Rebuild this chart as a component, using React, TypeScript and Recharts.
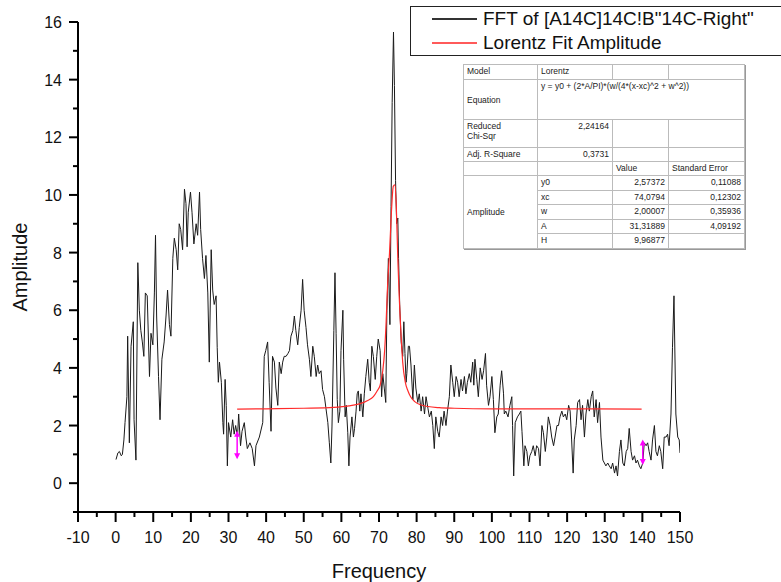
import { LineChart, Line, XAxis, YAxis, Legend } from "recharts"

// FFT spectrum (frequency / amplitude)
const fftFreq = [
  0.1, 0.6, 1.0, 1.5, 1.8, 2.2, 2.5, 3.0, 3.2, 3.65, 4.1, 4.7, 4.9, 5.4, 5.9, 6.3, 6.7, 7.1, 7.5, 7.9,
  8.4, 9.0, 9.4, 9.9, 10.3, 10.6, 10.9, 11.4, 11.8, 12.3, 12.9, 13.4, 13.8, 14.3, 14.7, 15.2, 15.6, 16.1, 16.5, 16.9,
  17.3, 17.8, 18.3, 18.7, 19.0, 19.3, 19.9, 20.3, 20.8, 21.4, 21.8, 22.3, 22.6, 23.1, 23.6, 24.0, 24.5, 24.9, 25.4, 25.8,
  26.2, 26.7, 27.0, 27.3, 27.6, 28.1, 28.5, 28.7, 29.1, 29.4, 29.7, 30.0, 30.6, 31.1, 31.5, 31.9, 32.4, 32.7, 33.2, 33.6,
  34.2, 34.6, 35.0, 35.7, 36.3, 36.9, 37.3, 38.2, 39.1, 39.5, 39.9, 40.4, 40.8, 41.3, 41.7, 42.2, 42.6, 43.1, 43.5, 44.0,
  44.4, 44.8, 45.3, 45.8, 46.2, 46.6, 47.1, 47.5, 47.9, 48.4, 48.8, 49.3, 49.7, 50.1, 50.6, 51.0, 51.5, 51.9, 52.4, 52.8,
  53.3, 53.7, 54.1, 54.6, 55.0, 55.5, 55.9, 56.4, 56.8, 57.2, 57.5, 58.0, 58.3, 58.6, 58.9, 59.2, 59.6, 59.9, 60.4, 60.6,
  61.0, 61.3, 61.7, 62.0, 62.3, 62.8, 63.2, 63.5, 63.9, 64.2, 64.5, 64.9, 65.2, 65.7, 66.1, 66.5, 67.0, 67.4, 67.7, 68.1,
  68.5, 69.0, 69.4, 69.8, 70.3, 70.7, 71.0, 71.4, 71.8, 72.1, 72.5, 72.9, 73.2, 73.5, 73.85, 74.1, 74.4, 74.7, 75.0, 75.2,
  75.5, 75.9, 76.3, 76.6, 76.9, 77.2, 77.4, 77.8, 78.1, 78.5, 79.0, 79.4, 79.8, 80.3, 80.7, 81.2, 81.6, 82.1, 82.5, 83.0,
  83.4, 83.9, 84.3, 84.7, 85.1, 85.6, 86.0, 86.5, 86.9, 87.3, 87.8, 88.2, 88.7, 89.1, 89.6, 90.0, 90.5, 90.9, 91.3, 91.8,
  92.2, 92.7, 93.1, 93.5, 94.0, 94.4, 94.9, 95.2, 95.5, 96.0, 96.4, 96.9, 97.4, 97.8, 98.3, 98.6, 99.1, 99.5, 100.0, 100.4,
  100.8, 101.3, 101.7, 102.2, 102.6, 103.1, 103.3, 103.7, 104.3, 104.8, 105.3, 105.5, 105.8, 106.2, 106.8, 107.3, 107.7, 108.0, 108.5, 108.8,
  109.3, 109.7, 110.1, 110.6, 111.0, 111.5, 111.9, 112.4, 112.8, 113.3, 113.7, 114.2, 114.6, 115.0, 115.5, 115.9, 116.4, 116.8, 117.3, 117.7,
  118.1, 118.6, 119.0, 119.5, 119.9, 120.4, 120.8, 121.2, 121.6, 121.9, 122.4, 122.8, 123.3, 123.7, 124.1, 124.6, 125.0, 125.5, 125.9, 126.4,
  126.8, 127.2, 127.7, 128.1, 128.6, 129.0, 129.5, 129.9, 130.3, 130.8, 131.2, 131.7, 132.1, 132.6, 133.0, 133.4, 133.9, 134.3, 134.8, 135.2,
  135.7, 136.1, 136.5, 137.0, 137.4, 137.9, 138.3, 138.7, 139.2, 139.6, 140.1, 140.5, 141.0, 141.4, 141.8, 142.3, 142.7, 143.2, 143.6, 144.0,
  144.5, 144.9, 145.4, 145.8, 146.3, 146.7, 147.1, 147.6, 148.0, 148.4, 148.9, 149.4, 149.8, 150.0,
]
const fftAmp = [
  0.82, 1.05, 1.1, 0.95, 1.0, 1.5, 2.1, 3.0, 5.1, 1.4, 4.75, 5.6, 2.2, 0.8, 7.65, 6.0, 5.3, 4.9, 4.4, 6.6,
  6.5, 3.7, 5.2, 4.8, 6.6, 8.6, 5.8, 3.7, 2.2, 4.3, 4.9, 5.8, 6.7, 5.5, 5.1, 7.8, 8.5, 8.1, 7.4, 9.0,
  8.8, 8.1, 10.2, 9.7, 8.2, 9.4, 10.1, 9.4, 8.3, 9.0, 8.6, 10.1, 8.8, 7.8, 7.1, 7.9, 6.6, 4.2, 8.1, 6.7,
  6.2, 6.5, 4.7, 3.5, 4.2, 3.5, 2.1, 1.7, 3.6, 2.7, 0.6, 2.1, 1.6, 2.2, 1.7, 2.0, 1.6, 2.4, 1.3, 1.8,
  2.1, 1.6, 1.2, 1.4, 1.2, 0.6, 1.3, 1.6, 2.1, 4.4, 4.6, 4.9, 3.5, 1.8, 4.4, 4.2, 3.3, 2.7, 4.2, 3.8,
  4.2, 4.4, 4.4, 4.5, 4.6, 5.1, 5.3, 5.8, 5.3, 4.8, 5.4, 6.0, 7.07, 6.0, 5.4, 4.8, 4.3, 3.7, 4.75, 4.4,
  3.7, 4.1, 3.8, 3.9, 3.25, 3.0, 2.6, 2.1, 1.4, 0.7, 1.95, 5.3, 7.3, 5.2, 2.9, 2.1, 2.5, 4.6, 6.0, 4.3,
  2.3, 2.7, 1.75, 0.6, 1.6, 2.3, 1.6, 1.9, 2.5, 3.1, 3.2, 2.5, 3.1, 2.3, 3.1, 3.7, 4.3, 3.5, 3.2, 4.75,
  4.4, 3.6, 4.4, 5.0, 4.6, 3.0, 3.8, 3.3, 2.8, 6.0, 7.8, 5.5, 9.6, 13.2, 15.65, 13.8, 10.5, 9.0, 9.2, 7.8,
  6.2, 4.9, 4.4, 5.6, 4.5, 3.5, 3.8, 4.75, 4.75, 4.1, 2.9, 4.1, 3.3, 2.8, 3.1, 2.5, 3.0, 2.4, 3.0, 2.6,
  2.3, 2.5, 2.0, 1.2, 2.3, 1.8, 1.6, 2.3, 2.0, 2.5, 2.0, 2.5, 3.0, 4.1, 3.5, 3.0, 3.7, 3.5, 3.0, 3.6,
  3.2, 3.7, 3.1, 3.5, 3.8, 3.5, 4.2, 3.4, 4.3, 3.6, 3.0, 4.0, 3.6, 3.9, 4.5, 3.4, 2.7, 3.0, 3.7, 2.9,
  1.75, 2.3, 2.4, 3.4, 3.9, 3.1, 2.4, 2.5, 2.3, 2.7, 3.0, 2.0, 0.25, 2.1, 2.3, 2.4, 2.5, 1.8, 0.6, 1.3,
  1.1, 0.6, 0.95, 1.1, 1.3, 0.95, 1.3, 1.2, 0.6, 2.0, 1.75, 1.1, 1.6, 2.3, 2.0, 1.6, 1.3, 1.6, 2.0, 2.0,
  2.3, 2.5, 2.3, 2.4, 2.2, 2.7, 2.5, 1.5, 0.35, 1.5, 2.0, 2.8, 2.9, 2.2, 2.7, 1.6, 2.4, 2.9, 2.5, 3.0,
  3.2, 2.3, 2.9, 2.1, 2.8, 1.6, 0.8, 0.7, 0.6, 0.7, 0.6, 0.5, 0.7, 0.35, 0.6, 0.25, 1.1, 1.5, 0.7, 0.6,
  1.1, 1.2, 1.9, 1.1, 0.8, 0.95, 0.7, 0.8, 0.6, 0.5, 0.7, 1.4, 1.3, 1.4, 1.1, 0.8, 1.5, 2.0, 1.1, 0.95,
  1.3, 1.1, 0.5, 1.6, 1.6, 1.7, 1.3, 2.4, 4.7, 6.5, 2.4, 1.6, 1.5, 1.05,
]

// Lorentz fit curve
const fitFreq = [
  32.3, 40, 50, 58, 62, 65, 67, 68.5, 69.5, 70.3, 71.0, 71.5, 71.9, 72.3, 72.8, 73.3, 73.8, 74.2, 74.6, 75.0,
  75.3, 75.6, 76.0, 76.3, 77.0, 77.7, 78.4, 79.5, 81, 83, 86, 90, 100, 120, 139.8,
]
const fitAmp = [
  2.57, 2.58, 2.6, 2.63, 2.68, 2.76, 2.87, 3.0, 3.2, 3.4, 3.9, 4.6, 5.6, 6.9, 8.0, 9.4, 10.3, 10.35, 9.6, 7.8,
  6.7, 5.8, 4.8, 4.2, 3.5, 3.2, 3.0, 2.83, 2.72, 2.66, 2.62, 2.6, 2.58, 2.58, 2.57,
]

// data reader markers (magenta double arrows)
const markerFreq = [32.3, 140.1]
const markerTop = [1.75, 1.45]
const markerBottom = [0.9, 0.7]

const xTicks = [-10, -5, 0, 5, 10, 15, 20, 25, 30, 35, 40, 45, 50, 55, 60, 65, 70, 75, 80, 85, 90, 95, 100, 105, 110, 115, 120, 125, 130, 135, 140, 145, 150]
const yTicks = [-1, 0, 1, 2, 3, 4, 5, 6, 7, 8, 9, 10, 11, 12, 13, 14, 15, 16]

const paramNames = ["y0", "xc", "w", "A", "H"]
const paramValues = ["2,57372", "74,0794", "2,00007", "31,31889", "9,96877"]
const paramErrors = ["0,11088", "0,12302", "0,35936", "4,09192", ""]

const fftName = 'FFT of [A14C]14C!B"14C-Right"'
const fitName = "Lorentz Fit Amplitude"

const fftData = fftFreq.map((f, i) => ({ f, a: fftAmp[i] }))
const fitData = fitFreq.map((f, i) => ({ f, a: fitAmp[i] }))
const markers = markerFreq.map((f, i) => [
  { f, a: markerTop[i] },
  { f, a: markerBottom[i] },
])

const FONT = "'Liberation Sans', Arial, sans-serif"

function XTick({ x, y, payload }: any) {
  const v = payload.value
  const major = v % 10 === 0
  return (
    <g>
      <line x1={x} x2={x} y1={y} y2={y + (major ? 10 : 5)} stroke="#000" strokeWidth={2} />
      {major && (
        <text x={x} y={y + 31} textAnchor="middle" fontSize={16} fontFamily={FONT} fill="#111">
          {v}
        </text>
      )}
    </g>
  )
}

function YTick({ x, y, payload }: any) {
  const v = payload.value
  const major = v >= 0 && v % 2 === 0
  return (
    <g>
      <line x1={x - (major ? 9 : 5)} x2={x} y1={y} y2={y} stroke="#000" strokeWidth={2} />
      {major && (
        <text x={x - 16} y={y + 6} textAnchor="end" fontSize={16} fontFamily={FONT} fill="#111">
          {v}
        </text>
      )}
    </g>
  )
}

function YLabel({ viewBox }: any) {
  const cx = (viewBox?.x ?? 18) + 9
  const cy = (viewBox?.y ?? 22) + (viewBox?.height ?? 490) / 2
  return (
    <text x={cx} y={cy} transform={`rotate(-90, ${cx}, ${cy})`} textAnchor="middle" fontSize={20} fontFamily={FONT} fill="#111">
      Amplitude
    </text>
  )
}

function XLabel({ viewBox }: any) {
  const cx = (viewBox?.x ?? 78) + (viewBox?.width ?? 602) / 2
  const cy = (viewBox?.y ?? 512) + 66
  return (
    <text x={cx} y={cy} textAnchor="middle" fontSize={20} fontFamily={FONT} fill="#111">
      Frequency
    </text>
  )
}

function ArrowHead({ cx, cy, index }: any) {
  if (cx == null || cy == null) return null
  const pts = index === 0
    ? `${cx},${cy - 2} ${cx - 3},${cy + 4} ${cx + 3},${cy + 4}`
    : `${cx},${cy + 2} ${cx - 3},${cy - 4} ${cx + 3},${cy - 4}`
  return <polygon key={`ah-${index}`} points={pts} fill="#ff00ff" />
}

function LegendBox() {
  const row = (color: string, text: string) => (
    <div style={{ display: "flex", alignItems: "center", height: 24 }}>
      <div style={{ width: 45, height: 1.5, background: color, marginLeft: 21, marginRight: 6 }} />
      <span style={{ fontSize: 19, color: "#111", fontFamily: FONT, whiteSpace: "nowrap" }}>{text}</span>
    </div>
  )
  return (
    <div style={{ border: "1px solid #222", width: 400, height: 50, boxSizing: "border-box" }}>
      {row("#333", fftName)}
      {row("#ff5a5a", fitName)}
    </div>
  )
}

const cell: React.CSSProperties = {
  border: "1px solid #bbb",
  padding: "1px 3px",
  verticalAlign: "top",
  fontSize: 8.5,
  color: "#222",
  lineHeight: "10px",
}

function FitTable() {
  return (
    <table
      style={{
        position: "absolute",
        left: 463,
        top: 64,
        width: 281,
        borderCollapse: "collapse",
        tableLayout: "fixed",
        fontFamily: FONT,
        background: "#fff",
        border: "1px solid #555",
        boxShadow: "1px 1px 0 #999",
      }}
    >
      <colgroup>
        <col style={{ width: 74 }} />
        <col style={{ width: 75 }} />
        <col style={{ width: 56 }} />
        <col style={{ width: 76 }} />
      </colgroup>
      <tbody>
        <tr style={{ height: 15 }}>
          <td style={cell}>Model</td>
          <td style={cell}>Lorentz</td>
          <td style={cell}></td>
          <td style={cell}></td>
        </tr>
        <tr style={{ height: 40 }}>
          <td style={{ ...cell, verticalAlign: "middle" }}>Equation</td>
          <td style={cell} colSpan={3}>y = y0 + (2*A/PI)*(w/(4*(x-xc)^2 + w^2))</td>
        </tr>
        <tr style={{ height: 28 }}>
          <td style={cell}>Reduced<br />Chi-Sqr</td>
          <td style={{ ...cell, textAlign: "right" }}>2,24164</td>
          <td style={cell}></td>
          <td style={cell}></td>
        </tr>
        <tr style={{ height: 14 }}>
          <td style={cell}>Adj. R-Square</td>
          <td style={{ ...cell, textAlign: "right" }}>0,3731</td>
          <td style={cell}></td>
          <td style={cell}></td>
        </tr>
        <tr style={{ height: 14 }}>
          <td style={cell}></td>
          <td style={cell}></td>
          <td style={cell}>Value</td>
          <td style={cell}>Standard Error</td>
        </tr>
        {paramNames.map((p, i) => (
          <tr key={p} style={{ height: 14.6 }}>
            {i === 0 && (
              <td style={{ ...cell, verticalAlign: "middle" }} rowSpan={paramNames.length}>Amplitude</td>
            )}
            <td style={cell}>{p}</td>
            <td style={{ ...cell, textAlign: "right" }}>{paramValues[i]}</td>
            <td style={{ ...cell, textAlign: "right" }}>{paramErrors[i]}</td>
          </tr>
        ))}
      </tbody>
    </table>
  )
}

export default function App() {
  return (
    <div style={{ position: "absolute", left: 0, top: 0, width: 781, height: 582, background: "#fff", overflow: "hidden" }}>
      <LineChart width={781} height={582} margin={{ top: 22, right: 101, bottom: 20, left: 18 }}>
        <XAxis
          type="number"
          dataKey="f"
          domain={[-10, 150]}
          ticks={xTicks}
          interval={0}
          tickSize={0}
          tickMargin={0}
          tickLine={false}
          tick={<XTick />}
          height={50}
          axisLine={{ stroke: "#000", strokeWidth: 2 }}
          allowDataOverflow
          label={<XLabel />}
        />
        <YAxis
          type="number"
          domain={[-1, 16]}
          ticks={yTicks}
          interval={0}
          tickSize={0}
          tickMargin={0}
          tickLine={false}
          tick={<YTick />}
          width={60}
          axisLine={{ stroke: "#000", strokeWidth: 2 }}
          allowDataOverflow
          label={<YLabel />}
        />
        <Legend
          verticalAlign="middle"
          align="center"
          layout="horizontal"
          wrapperStyle={{ position: "absolute", left: 410, top: 6, width: 400, height: 50 }}
          content={<LegendBox />}
        />
        <Line data={fftData} dataKey="a" name={fftName} type="linear" stroke="#1a1a1a" strokeWidth={1} dot={false} isAnimationActive={false} />
        <Line data={fitData} dataKey="a" name={fitName} type="monotone" stroke="#ff2a2a" strokeWidth={1.2} dot={false} isAnimationActive={false} />
        {markers.map((m, i) => (
          <Line
            key={i}
            data={m}
            dataKey="a"
            legendType="none"
            stroke="#ff00ff"
            strokeWidth={1.5}
            dot={<ArrowHead />}
            isAnimationActive={false}
          />
        ))}
      </LineChart>
      <FitTable />
    </div>
  )
}
